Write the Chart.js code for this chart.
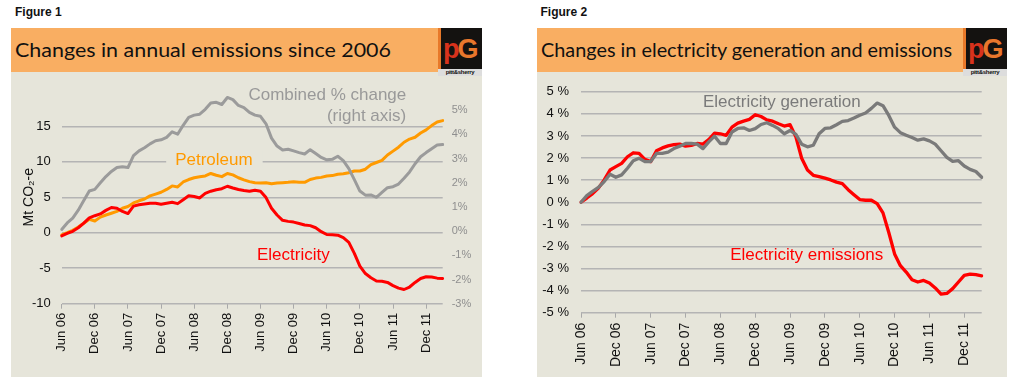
<!DOCTYPE html>
<html><head><meta charset="utf-8">
<script src="https://cdn.jsdelivr.net/npm/chart.js@4.4.0/dist/chart.umd.min.js"></script>
<style>
html,body{margin:0;padding:0;background:#fff;width:1014px;height:387px;overflow:hidden;font-family:"Liberation Sans",Arial,sans-serif}
.bar{position:absolute;background:#f9ae62;height:44px;top:28px}
.bg{position:absolute;background:#e6e5da;top:72px;height:305px}
.logo{position:absolute;background:#141210;top:28px;width:44px;height:48px;overflow:hidden}
.logo .st{position:absolute;left:0;top:0;width:3px;height:41px;background:#e8792a}
.logo .pg{position:absolute;left:5px;top:6px;font:bold 27px/30px "Liberation Sans",Arial,sans-serif;letter-spacing:-2px}
.logo .ps{position:absolute;left:0;bottom:0;width:44px;height:7px;background:#ddd;font:bold 6px/7px "Liberation Sans",Arial,sans-serif;color:#111;text-align:center;letter-spacing:-0.3px}
canvas{position:absolute}
svg{position:absolute;left:0;top:0}
</style></head>
<body>
<svg width="1014" height="72">
  <text x="15" y="16" font-family="Liberation Sans, Arial" font-weight="bold" font-size="12" fill="#111">Figure 1</text>
  <text x="540.5" y="16" font-family="Liberation Sans, Arial" font-weight="bold" font-size="12" fill="#111">Figure 2</text>
</svg>
<div class="bar" style="left:11px;width:427px"></div>
<div class="bar" style="left:537px;width:426px"></div>
<div class="bg" style="left:11px;width:471px"></div>
<div class="bg" style="left:537px;width:470px"></div>
<svg width="1014" height="72" style="z-index:2">
  <text x="15" y="56.7" font-family="Lato, Noto Sans, sans-serif" font-size="19.5" fill="#111" textLength="376" lengthAdjust="spacingAndGlyphs">Changes in annual emissions since 2006</text>
  <text x="541" y="56.7" font-family="Lato, Noto Sans, sans-serif" font-size="19.5" fill="#111" textLength="411" lengthAdjust="spacingAndGlyphs">Changes in electricity generation and emissions</text>
</svg>
<div class="logo" style="left:438px"><div class="st"></div><div class="pg"><span style="color:#d8321c">p</span><span style="color:#e9772c">G</span></div><div class="ps">pitt&amp;sherry</div></div>
<div class="logo" style="left:963px"><div class="st"></div><div class="pg"><span style="color:#d8321c">p</span><span style="color:#e9772c">G</span></div><div class="ps">pitt&amp;sherry</div></div>
<canvas id="c1" width="471" height="305" style="left:11px;top:72px"></canvas>
<canvas id="c2" width="470" height="305" style="left:537px;top:72px"></canvas>
<script>
const months = ["Jun 06","Jul 06","Aug 06","Sep 06","Oct 06","Nov 06","Dec 06","Jan 07","Feb 07","Mar 07","Apr 07","May 07",
"Jun 07","Jul 07","Aug 07","Sep 07","Oct 07","Nov 07","Dec 07","Jan 08","Feb 08","Mar 08","Apr 08","May 08",
"Jun 08","Jul 08","Aug 08","Sep 08","Oct 08","Nov 08","Dec 08","Jan 09","Feb 09","Mar 09","Apr 09","May 09",
"Jun 09","Jul 09","Aug 09","Sep 09","Oct 09","Nov 09","Dec 09","Jan 10","Feb 10","Mar 10","Apr 10","May 10",
"Jun 10","Jul 10","Aug 10","Sep 10","Oct 10","Nov 10","Dec 10","Jan 11","Feb 11","Mar 11","Apr 11","May 11",
"Jun 11","Jul 11","Aug 11","Sep 11","Oct 11","Nov 11","Dec 11","Jan 12","Feb 12","Mar 12"];

// Figure 1 (Mt CO2-e, left axis) and combined % change (right axis)
const fig1Electricity = [-0.45,-0.1,0.2,0.7,1.35,2.1,2.4,2.65,3.15,3.55,
3.45,3.0,2.7,3.75,3.95,4.05,4.15,4.15,4.0,4.15,
4.3,4.1,4.65,5.2,5.1,4.9,5.55,5.85,6.05,6.2,
6.55,6.3,6.1,5.95,5.85,6.0,5.85,4.95,3.45,2.5,
1.75,1.6,1.5,1.3,1.1,1.0,0.7,0.15,-0.25,-0.3,
-0.35,-0.7,-1.35,-2.9,-4.7,-5.75,-6.35,-6.8,-6.85,-7.0,
-7.45,-7.8,-8.0,-7.65,-7.0,-6.45,-6.2,-6.25,-6.4,-6.45];
const fig1Petroleum = [-0.3,0,0.35,0.8,1.35,1.9,1.65,2.2,2.5,2.75,
3.0,3.45,3.7,4.2,4.5,4.75,5.2,5.45,5.7,6.1,
6.6,6.45,7.15,7.5,7.75,7.9,8.0,8.35,8.1,7.9,
8.35,8.15,7.75,7.45,7.2,7.05,7.0,7.05,6.9,7.0,
7.05,7.1,7.2,7.1,7.1,7.5,7.7,7.8,8.0,8.05,
8.25,8.3,8.45,8.7,8.7,8.95,9.6,9.9,10.2,10.95,
11.5,12.05,12.75,13.2,13.45,14.05,14.5,15.1,15.6,15.8];
const fig1CombinedPct = [0.07,0.34,0.54,0.87,1.27,1.66,1.73,2.0,2.26,2.47,
2.63,2.66,2.63,3.12,3.32,3.45,3.61,3.74,3.78,3.88,
4.11,4.01,4.38,4.71,4.8,4.84,5.04,5.3,5.33,5.24,
5.53,5.44,5.2,5.11,4.91,4.8,4.75,4.44,3.85,3.52,
3.36,3.39,3.32,3.25,3.19,3.37,3.21,3.05,2.95,2.97,
3.1,2.92,2.59,2.13,1.66,1.49,1.5,1.4,1.6,1.8,
1.84,1.95,2.19,2.45,2.79,3.08,3.25,3.41,3.56,3.58];

// Figure 2 (% change)
const fig2Generation = [0,0.3,0.49,0.67,0.94,1.27,1.13,1.24,1.54,1.88,
1.99,1.84,1.84,2.21,2.21,2.27,2.43,2.54,2.66,2.66,
2.63,2.43,2.73,2.99,2.66,2.66,3.18,3.34,3.37,3.25,
3.33,3.52,3.6,3.48,3.33,3.1,3.25,3.07,2.63,2.51,
2.58,3.1,3.34,3.37,3.51,3.66,3.7,3.81,3.94,4.04,
4.25,4.49,4.37,3.93,3.4,3.15,3.03,2.93,2.81,2.87,
2.78,2.63,2.33,2.03,1.85,1.88,1.64,1.49,1.39,1.13];
const fig2Emissions = [0,0.19,0.39,0.64,1.01,1.46,1.61,1.76,2.06,2.24,
2.21,1.94,1.84,2.33,2.46,2.55,2.61,2.63,2.54,2.57,
2.66,2.63,2.84,3.13,3.1,3.03,3.4,3.58,3.67,3.75,
3.96,3.88,3.73,3.67,3.55,3.45,3.51,2.96,1.99,1.46,
1.22,1.16,1.09,1.01,0.91,0.84,0.57,0.34,0.12,0.09,
0.09,-0.06,-0.48,-1.37,-2.34,-2.87,-3.16,-3.51,-3.61,-3.54,
-3.66,-3.88,-4.16,-4.13,-3.91,-3.61,-3.31,-3.25,-3.28,-3.33];

const fig1LeftTicks = [-10,-5,0,5,10,15];
const fig1RightTicks = [-3,-2,-1,0,1,2,3,4,5];
const fig2Ticks = [-5,-4,-3,-2,-1,0,1,2,3,4,5];

const FAM = '"Liberation Sans", Arial, sans-serif';

const textLabels = {
  id:'textLabels',
  beforeDatasetsDraw(chart, args, opts){
    const ctx = chart.ctx, a = chart.chartArea, n = chart.data.labels.length;
    (opts.items||[]).forEach(it=>{
      if(!it.bg) return;
      ctx.save();
      ctx.font = '17px ' + FAM;
      const w = ctx.measureText(it.text).width;
      const x = a.left + it.x/(n-1)*(a.right-a.left);
      const y = chart.scales[it.axis||'y'].getPixelForValue(it.y);
      const x0 = it.align==='right' ? x-w : x;
      ctx.fillStyle = it.bg;
      ctx.fillRect(x0-9, y-9, w+19, 18);
      ctx.restore();
    });
  },
  afterDatasetsDraw(chart, args, opts){
    const ctx = chart.ctx, a = chart.chartArea, n = chart.data.labels.length;
    (opts.items||[]).forEach(it=>{
      ctx.save();
      ctx.font = '17px ' + FAM;
      ctx.textAlign = it.align||'left';
      ctx.textBaseline = 'middle';
      ctx.fillStyle = it.color;
      const x = a.left + it.x/(n-1)*(a.right-a.left);
      const y = chart.scales[it.axis||'y'].getPixelForValue(it.y);
      ctx.fillText(it.text, x, y);
      ctx.restore();
    });
  }
};

function xScale(h, fontSize, pad){
  return {
    type:'category', offset:false,
    grid:{drawOnChartArea:false, drawTicks:true, tickLength:5, lineWidth:1,
      color:c=> (c.index%6===0 ? '#a9a9a9' : 'rgba(0,0,0,0)')},
    border:{display:false},
    ticks:{autoSkip:false, maxRotation:90, minRotation:90, padding:pad, color:'#111',
      font:{size:fontSize, family:FAM},
      callback:function(v,i){ return i%6===0 ? months[i] : ''; }},
    afterFit:s=>{ s.height = h; }
  };
}

new Chart(document.getElementById('c1'), {
  type:'line',
  data:{labels:months, datasets:[
    {data:fig1CombinedPct, yAxisID:'y1', borderColor:'#9b9b9b', borderWidth:3},
    {data:fig1Electricity, yAxisID:'y', borderColor:'#ff0000', borderWidth:3},
    {data:fig1Petroleum, yAxisID:'y', borderColor:'#ff9a00', borderWidth:3}
  ]},
  options:{
    responsive:false, animation:false,
    layout:{padding:{top:10.06,left:0,right:0,bottom:0}},
    elements:{point:{radius:0}, line:{tension:0, borderJoinStyle:'round', borderCapStyle:'round'}},
    plugins:{legend:{display:false}, tooltip:{enabled:false},
      textLabels:{items:[
        {text:'Combined % change', x:62.4, y:19.31, align:'right', color:'#999999'},
        {text:'(right axis)', x:62.4, y:16.47, align:'right', color:'#999999'},
        {text:'Petroleum', x:20.55, y:10.25, align:'left', color:'#ff9a00', bg:'#e6e5da'},
        {text:'Electricity', x:35.36, y:-3.15, align:'left', color:'#ff0000'}
      ]}},
    scales:{
      x:xScale(73.3, 13, 4),
      y:{position:'left', min:-10, max:20,
        ticks:{stepSize:5, padding:11, color:'#111', font:{size:13, family:FAM}},
        grid:{color:'#b4b4b4', lineWidth:1.5, drawTicks:false},
        border:{display:false},
        afterBuildTicks:s=>{ s.ticks = fig1LeftTicks.map(v=>({value:v})); },
        afterFit:s=>{ s.width = 50.7; },
        title:{display:true, text:'Mt CO\u2082-e', color:'#111', font:{size:14, family:FAM}, padding:{top:10,bottom:0}}
      },
      y1:{position:'right', min:-3, max:5.806,
        ticks:{stepSize:1, padding:9, color:'#8f8f8f', font:{size:11, family:FAM}, callback:v=>v+'%'},
        grid:{drawOnChartArea:false, drawTicks:false},
        border:{display:false},
        afterBuildTicks:s=>{ s.ticks = fig1RightTicks.map(v=>({value:v})); },
        afterFit:s=>{ s.width = 39.3; }
      }
    }
  },
  plugins:[textLabels]
});

new Chart(document.getElementById('c2'), {
  type:'line',
  data:{labels:months, datasets:[
    {data:fig2Generation, borderColor:'#7a7a7a', borderWidth:3.3},
    {data:fig2Emissions, borderColor:'#ff0000', borderWidth:3.3}
  ]},
  options:{
    responsive:false, animation:false,
    layout:{padding:{top:17.3,left:0,right:25.3,bottom:0}},
    elements:{point:{radius:0}, line:{tension:0, borderJoinStyle:'round', borderCapStyle:'round'}},
    plugins:{legend:{display:false}, tooltip:{enabled:false},
      textLabels:{items:[
        {text:'Electricity generation', x:21.0, y:4.52, align:'left', color:'#7a7a7a'},
        {text:'Electricity emissions', x:25.7, y:-2.42, align:'left', color:'#ff0000'}
      ]}},
    scales:{
      x:xScale(64.3, 14, 5),
      y:{position:'left', min:-5, max:5,
        ticks:{stepSize:1, padding:12, color:'#111', font:{size:13, family:FAM}, callback:v=>v+' %'},
        grid:{color:'#b4b4b4', lineWidth:1.5, drawTicks:false},
        border:{display:false},
        afterBuildTicks:s=>{ s.ticks = fig2Ticks.map(v=>({value:v})); },
        afterFit:s=>{ s.width = 44; }
      }
    }
  },
  plugins:[textLabels]
});
</script>
</body></html>
